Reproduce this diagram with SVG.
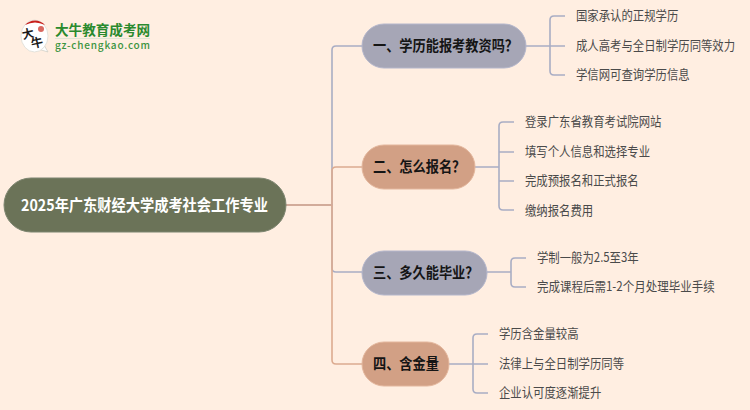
<svg xmlns="http://www.w3.org/2000/svg" width="750" height="410" viewBox="0 0 750 410">
<style>
text{font-family:"Noto Sans CJK SC","Liberation Sans",sans-serif}
.c{fill:none;stroke-width:1.6;stroke-linejoin:round}
.b{stroke:#a9adc4}
.o{stroke:#dcab90}
.n{font-size:15px;font-weight:700;fill:#151515}
.l{font-size:13px;fill:#4a4a4a}
.pb{fill:#a6a6b6;stroke:#b4b6cb;stroke-width:1}
.po{fill:#d2a085;stroke:#e3b69c;stroke-width:1}
</style>
<rect width="750" height="410" fill="#ffeee1"/>
<g id="connectors">
<path class="c b" d="M286 205H332V50Q332 46 336 46H362"/>
<path class="c o" d="M286 205H332V171Q332 167 336 167H362"/>
<path class="c b" d="M286 205H332V268Q332 272 336 272H362"/>
<path class="c o" d="M286 205H332V360Q332 364 336 364H362"/>
<path class="c b" d="M526 46H565M565 16H554Q550 16 550 20V71Q550 75 554 75H565"/>
<path class="c b" d="M475 167H499M514 122H503Q499 122 499 126V206Q499 210 503 210H514M499 152H514M499 181H514"/>
<path class="c b" d="M487 272H511M526 258H515Q511 258 511 262V283Q511 287 515 287H526"/>
<path class="c b" d="M449 364H488M488 334H477Q473 334 473 338V389Q473 393 477 393H488"/>
</g>
<g id="root">
<rect x="4" y="178" width="282" height="54" rx="27" fill="#6b7358" stroke="#7d8570" stroke-width="1"/>
<text transform="translate(144.500 210.500) scale(.89 1)" text-anchor="middle" font-size="16" font-weight="700" fill="#fff">2025年广东财经大学成考社会工作专业</text>
</g>
<g id="node1"><rect class="pb" x="362" y="24" width="164" height="44" rx="22"/><text class="n" transform="translate(373 51.300) scale(.88 1)">一、学历能报考教资吗？</text></g>
<g id="node2"><rect class="po" x="362" y="145" width="113" height="44" rx="22"/><text class="n" transform="translate(373 172.300) scale(.88 1)">二、怎么报名？</text></g>
<g id="node3"><rect class="pb" x="362" y="251" width="125" height="44" rx="22"/><text class="n" transform="translate(373 278.300) scale(.88 1)">三、多久能毕业？</text></g>
<g id="node4"><rect class="po" x="362" y="342" width="87" height="44" rx="22"/><text class="n" transform="translate(373 369.300) scale(.88 1)">四、含金量</text></g>
<g id="leaves1">
<text class="l" transform="translate(576 20) scale(.875 1)">国家承认的正规学历</text>
<text class="l" transform="translate(576 50) scale(.875 1)">成人高考与全日制学历同等效力</text>
<text class="l" transform="translate(576 79) scale(.875 1)">学信网可查询学历信息</text>
</g>
<g id="leaves2">
<text class="l" transform="translate(525 126) scale(.875 1)">登录广东省教育考试院网站</text>
<text class="l" transform="translate(525 156) scale(.875 1)">填写个人信息和选择专业</text>
<text class="l" transform="translate(525 185) scale(.875 1)">完成预报名和正式报名</text>
<text class="l" transform="translate(525 215) scale(.875 1)">缴纳报名费用</text>
</g>
<g id="leaves3">
<text class="l" transform="translate(537 262) scale(.875 1)">学制一般为2.5至3年</text>
<text class="l" transform="translate(537 291) scale(.885 1)">完成课程后需1-2个月处理毕业手续</text>
</g>
<g id="leaves4">
<text class="l" transform="translate(499 338) scale(.875 1)">学历含金量较高</text>
<text class="l" transform="translate(499 368) scale(.875 1)">法律上与全日制学历同等</text>
<text class="l" transform="translate(499 397) scale(.875 1)">企业认可度逐渐提升</text>
</g>
<g id="logo">
<path d="M38 49L48 52 44 45Z" fill="#fff" stroke="#cfcfc8" stroke-width=".8"/>
<ellipse cx="34.500" cy="36" rx="13.500" ry="16" fill="#fff" stroke="#dcdcd4" stroke-width=".8"/>
<path d="M25 25A14 15 0 0 1 45 25Q35 20 25 25Z" fill="#c8201c"/>
<circle cx="41" cy="29" r="3" fill="#d9685f"/>
<text x="22" y="38" font-size="12" font-weight="700" fill="#1a1a1a" transform="rotate(-12 28 34)">大</text>
<text x="31" y="47" font-size="12" font-weight="700" fill="#1a1a1a" transform="rotate(-12 37 43)">牛</text>
<text x="55" y="34.500" font-size="13.600" font-weight="700" fill="#2a8a2e">大牛教育成考网</text>
<path d="M55 38.500H150" stroke="#dfe6d4" stroke-width="1"/>
<text x="55" y="49" font-size="10" font-weight="500" fill="#3c9440" font-family="Liberation Sans" textLength="95">gz-chengkao.com</text>
</g>
</svg>
